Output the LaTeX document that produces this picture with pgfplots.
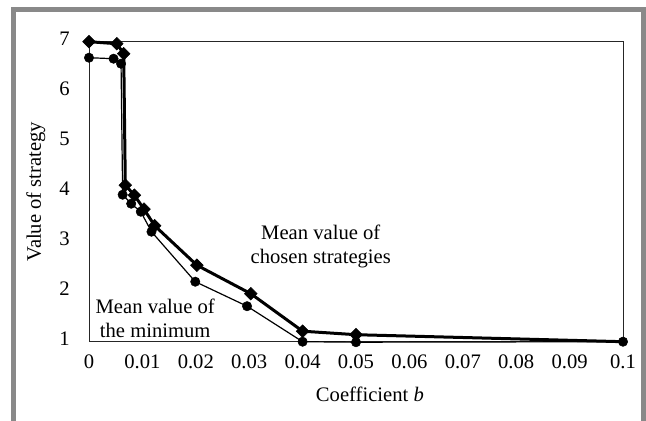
\documentclass[border=0pt]{standalone}
\usepackage{fontspec}
\setmainfont{Liberation Serif}
\usepackage{pgfplots}
\pgfplotsset{compat=1.18}
\definecolor{framegray}{HTML}{898989}
\begin{document}
\begin{tikzpicture}[font=\fontsize{20.7}{24}\selectfont]
\useasboundingbox (0,0) rectangle (646bp,421bp);
\fill[white] (0,0) rectangle (646bp,421bp);
\draw[framegray, line width=5bp] (13.5bp,0bp) -- (13.5bp,411.5bp) -- (643.5bp,411.5bp) -- (643.5bp,0bp);
\begin{axis}[
  at={(89bp,79.3bp)}, anchor=south west,
  scale only axis, width=534bp, height=300bp,
  xmin=0, xmax=0.1, ymin=1, ymax=7,
  clip=false,
  axis line style={black!85, line width=0.8bp},
  major tick length=0pt,
  xtick={0,0.01,0.02,0.03,0.04,0.05,0.06,0.07,0.08,0.09,0.1},
  xticklabels={0,0.01,0.02,0.03,0.04,0.05,0.06,0.07,0.08,0.09,0.1},
  ytick={1,2,3,4,5,6,7},
  yticklabels={1,2,3,4,5,6,7},
  every tick label/.append style={inner sep=0pt},
  xticklabel shift=13bp,
  yticklabel shift=19bp,
  yticklabel style={yshift=3bp},
  xlabel={Coefficient \textit{b}},
  ylabel={Value of strategy},
  every axis x label/.style={at={(axis description cs:0.526,0)}, anchor=north, inner sep=0pt, yshift=-45bp},
  every axis y label/.style={at={(axis description cs:-0.0815,0.5)}, rotate=90, anchor=south, inner sep=0pt},
]
% Mean value of chosen strategies (diamonds)
\addplot[black, line width=3bp, mark=square*, mark size=4.5bp, mark indices={1,2,3,4,5,6,7,8,9,10,11}, mark options={rotate=45, solid, line width=0.5bp}]
coordinates {
(0,7.0) (0.0052,6.96) (0.0065,6.76) (0.0068,4.13) (0.0085,3.93) (0.0103,3.65) (0.0123,3.32) (0.0202,2.53) (0.0303,1.96) (0.04,1.21) (0.05,1.14) (0.1,1.0)
};
% Mean value of the minimum (circles)
\addplot[black, line width=1.2bp, mark=*, mark size=4.7bp, mark options={solid, line width=0.5bp}]
coordinates {
(0,6.68) (0.0046,6.66) (0.006,6.56) (0.0063,3.94) (0.0079,3.76) (0.0097,3.6) (0.0117,3.2) (0.0199,2.2) (0.0296,1.71) (0.04,1.0) (0.05,0.99) (0.1,1.0)
};
\node[align=center, inner sep=0pt] at (axis cs:0.0434,2.91) {Mean value of\\chosen strategies};
\node[align=center, inner sep=0pt] at (axis cs:0.0124,1.47) {Mean value of\\the minimum};
\end{axis}
\end{tikzpicture}
\end{document}
